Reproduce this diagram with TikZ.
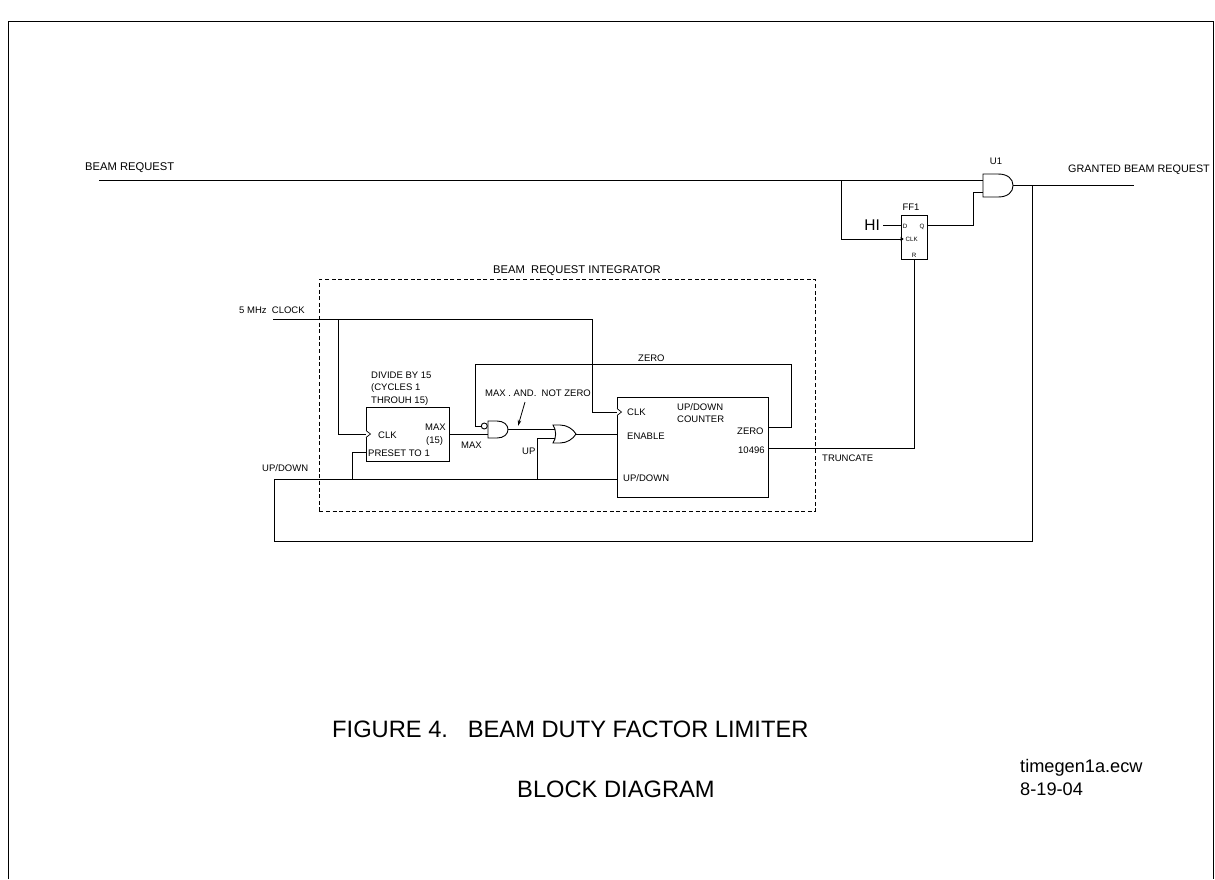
\documentclass[tikz,border=0pt]{standalone}
\usepackage{fontspec}
\usetikzlibrary{arrows.meta}
\setmainfont{Liberation Sans}
\tikzset{
  wire/.style={draw=black,line width=0.9pt},
  blockbox/.style={draw=black,line width=0.9pt,fill=none,inner sep=0pt,anchor=north west},
  lab/.style={inner sep=0pt,anchor=base west,font=\fontsize{9.5}{9.5}\selectfont,text=black},
  labl/.style={inner sep=0pt,anchor=base west,font=\fontsize{11.2}{11.2}\selectfont,text=black},
  labc/.style={inner sep=0pt,anchor=base,font=\fontsize{9.5}{9.5}\selectfont,text=black},
  tinylab/.style={inner sep=0pt,anchor=base,font=\fontsize{6.2}{6.2}\selectfont,text=black},
  big/.style={inner sep=0pt,anchor=base west,font=\fontsize{23.7}{23.7}\selectfont,text=black},
  mid/.style={inner sep=0pt,anchor=base west,font=\fontsize{18.2}{18.2}\selectfont,text=black},
  gate/.style={draw=black,line width=0.9pt,fill=white},
}
\begin{document}
\begin{tikzpicture}[x=1pt,y=-1pt]
\useasboundingbox (0,0) rectangle (1215,879);
% frame
\draw[line width=1pt] (8.5,879) -- (8.5,21.5) -- (1213.5,21.5) -- (1213.5,879);
% integrator boundary
\node[draw=black,line width=0.8pt,dash pattern=on 4pt off 2.6pt,inner sep=0pt,anchor=north west,minimum width=496pt,minimum height=232pt] (integ) at (319,279) {};
% boxes
\node[blockbox,minimum width=26pt,minimum height=44pt] (ff) at (901,215) {};
\node[blockbox,minimum width=83pt,minimum height=54pt] (div) at (366,407) {};
\node[blockbox,minimum width=151pt,minimum height=100pt] (cnt) at (617,397) {};
% ports
\coordinate (brq) at (99,180);
\coordinate (u1a) at (983,180);
\coordinate (u1b) at (983,192);
\coordinate (u1o) at (1013,185);
\coordinate (gbr) at (1134,185);
\coordinate (j1) at (841,180);
\coordinate (ffclk) at (901,239);
\coordinate (ffd) at (901,225);
\coordinate (ffq) at (927,225);
\coordinate (ffr) at (914,259);
\coordinate (hi) at (883,225);
\coordinate (clk5) at (273,319);
\coordinate (j2) at (338,319);
\coordinate (divclk) at (366,434);
\coordinate (divpre) at (366,452);
\coordinate (divmax) at (449,434);
\coordinate (cntclk) at (617,412);
\coordinate (cnten) at (617,434);
\coordinate (cntud) at (617,479.5);
\coordinate (cntz) at (768,427);
\coordinate (cntn) at (768,448);
\coordinate (nandb) at (481,426);
\coordinate (nandm) at (488,434);
\coordinate (nando) at (508,429);
\coordinate (ora) at (555,429);
\coordinate (orb) at (555,438);
\coordinate (oro) at (576,434);
\coordinate (j3) at (1032,185);
\coordinate (arra) at (525,402);
\coordinate (arrb) at (518,426);
% connectors
\draw[wire] (brq) -- (u1a);
\draw[wire] (j1) |- (ffclk);
\draw[wire] (hi) -- (ffd);
\draw[wire] (ffq) -- (973,225) |- (u1b);
\draw[wire] (u1o) -- (gbr);
\draw[wire] (ffr) |- (cntn);
\draw[wire] (j3) |- (274,541) |- (cntud);
\draw[wire] (clk5) -- (592,319) |- (cntclk);
\draw[wire] (j2) |- (divclk);
\draw[wire] (352,479.5) |- (divpre);
\draw[wire] (divmax) -- (nandm);
\draw[wire] (nando) -- (ora);
\draw[wire] (537,479.5) |- (orb);
\draw[wire] (oro) -- (cnten);
\draw[wire] (cntz) -- (791,427) |- (475,364) |- (nandb);
\draw[line width=0.8pt,-{Stealth[length=6pt,width=3.5pt]}] (arra) -- (arrb);
% clock triangles
\draw[line width=0.7pt,fill=white] (617,408.5) -- (621.5,412) -- (617,415.5);
\draw[line width=0.7pt,fill=white] (366,430.5) -- (370.5,434) -- (366,437.5);
\draw[line width=0.7pt,fill=black] (901,237.5) -- (903,239) -- (901,240.5) -- cycle;
% gates
\path[gate] (983,174) -- (998,174) .. controls (1008,174) and (1013,179) .. (1013,185.5) .. controls (1013,192) and (1008,197) .. (998,197) -- (983,197) -- cycle;
\path[gate] (488,421) -- (497,421) .. controls (504,421) and (508,425) .. (508,429.5) .. controls (508,434) and (504,438) .. (497,438) -- (488,438) -- cycle;
\draw[gate] (484.3,426) circle (3pt);
\path[gate] (553,425) -- (560,425) .. controls (567,425) and (573,429) .. (576,434) .. controls (573,439) and (567,443) .. (560,443) -- (553,443) .. controls (556.5,438) and (556.5,430) .. (553,425) -- cycle;
% labels
\node[labl] (t1) at (85,170) {BEAM REQUEST};
\node[labc] (t2) at (996,164) {U1};
\node[inner sep=0pt,anchor=base west,font=\fontsize{10.8}{10.8}\selectfont] (t3) at (1068,172) {GRANTED BEAM REQUEST};
\node[labc] (t4) at (911,210) {FF1};
\node[inner sep=0pt,anchor=base east,font=\fontsize{15.5}{15.5}\selectfont] (t5) at (880,230) {HI};
\node[tinylab] (t6) at (905,228) {D};
\node[tinylab] (t7) at (922,228) {Q};
\node[tinylab,anchor=base west] (t8) at (905.5,241) {CLK};
\node[tinylab] (t9) at (914,257) {R};
\node[labl] (t10) at (493,273) {BEAM\ \ REQUEST INTEGRATOR};
\node[lab] (t11) at (239,313) {5 MHz\ \ CLOCK};
\node[lab] (t12) at (638,361) {ZERO};
\node[lab] (t13) at (371,378) {DIVIDE BY 15};
\node[lab] (t14) at (371,390) {(CYCLES 1};
\node[lab] (t15) at (371,403) {THROUH 15)};
\node[lab] (t16) at (485,396) {MAX . AND.\ \ NOT ZERO};
\node[lab] (t17) at (378,438) {CLK};
\node[lab] (t18) at (425,430) {MAX};
\node[lab] (t19) at (426,443) {(15)};
\node[lab] (t20) at (368,456) {PRESET TO 1};
\node[lab] (t21) at (461,448) {MAX};
\node[lab] (t22) at (522,454) {UP};
\node[lab] (t23) at (627,415) {CLK};
\node[lab] (t24) at (627,439) {ENABLE};
\node[lab] (t25) at (623,481) {UP/DOWN};
\node[lab] (t26) at (677,410) {UP/DOWN};
\node[lab] (t27) at (677,422) {COUNTER};
\node[lab] (t28) at (737,434) {ZERO};
\node[lab] (t29) at (738,453) {10496};
\node[lab] (t30) at (822,461) {TRUNCATE};
\node[lab] (t31) at (262,471) {UP/DOWN};
\node[big] (t32) at (332,737) {FIGURE 4.\ \ \ BEAM DUTY FACTOR LIMITER};
\node[big] (t33) at (517,797) {BLOCK DIAGRAM};
\node[mid] (t34) at (1020,772) {timegen1a.ecw};
\node[mid] (t35) at (1020,795) {8-19-04};
\end{tikzpicture}
\end{document}
